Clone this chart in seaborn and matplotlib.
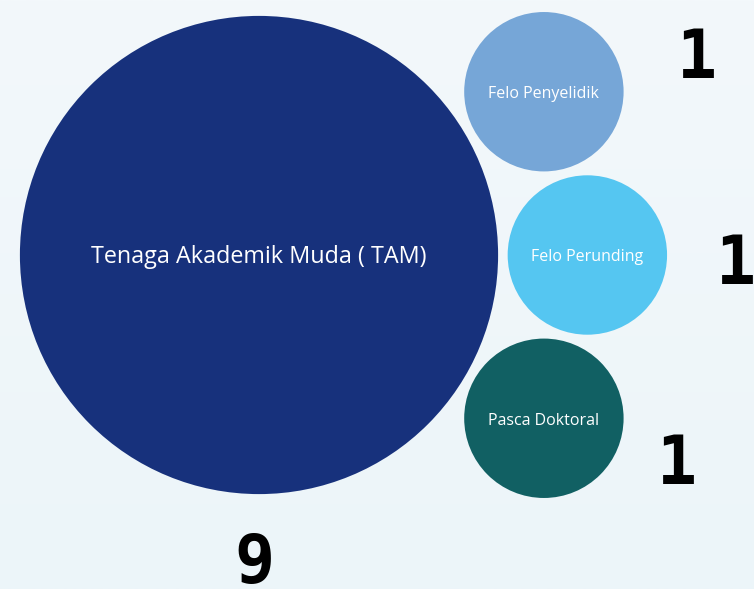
import numpy as np
import pandas as pd
import matplotlib.pyplot as plt
import seaborn as sns

# data
categories = ['Tenaga Akademik Muda ( TAM)', 'Felo Penyelidik', 'Felo Perunding', 'Pasca Doktoral']
counts = [9, 1, 1, 1]
colors = ['#17317c', '#76a6d7', '#55c6f1', '#116063']

W, H, DPI = 754, 589, 100
UNIT_PX = 79.7          # pixels per unit of radius (radius = sqrt(count))
PAD = 0.12              # gap between bubbles


def pack_layout(values):
    # big bubble at origin, small ones stacked round its right side
    radii = np.sqrt(values)
    r0, r1 = radii[0], radii[1]
    d = r0 + r1 + PAD
    theta = 2 * np.arcsin((2 * r1 + PAD) / (2 * d))
    angles = [theta, 0.0, -theta]
    xs = [0.0] + [d * np.cos(a) for a in angles]
    ys = [0.0] + [d * np.sin(a) for a in angles]
    return np.array(xs), np.array(ys), radii


xs, ys, radii = pack_layout(np.array(counts, dtype=float))
df = pd.DataFrame({'cat': categories, 'count': counts, 'x': xs, 'y': ys})

sns.set_theme(style='white')
plt.rcParams['font.family'] = ['Open Sans', 'DejaVu Sans']

fig = plt.figure(figsize=(W / DPI, H / DPI), dpi=DPI)
ax = fig.add_axes([0, 0, 1, 1])

# axis limits so that one unit = UNIT_PX pixels, big bubble centre at (259, 255)
cx, cy = 259, 255
xlim = (-cx / UNIT_PX, (W - cx) / UNIT_PX)
ylim = (-(H - cy) / UNIT_PX, cy / UNIT_PX)

# soft vertical gradient background, lighter at the top
grad = np.linspace(0, 1, 256).reshape(-1, 1)
top = np.array([243, 248, 251]) / 255
bot = np.array([236, 245, 249]) / 255
img = top + (bot - top) * grad[..., None]
ax.imshow(img, extent=[xlim[0], xlim[1], ylim[0], ylim[1]], origin='upper',
          aspect='auto', zorder=0)
ax.set_xlim(*xlim)
ax.set_ylim(*ylim)

# marker area so that bubble radius in data units = sqrt(count)
pt_per_unit = UNIT_PX * 72 / DPI
size_map = {v: (2 * np.sqrt(v) * pt_per_unit) ** 2 for v in set(counts)}
sns.scatterplot(data=df, x='x', y='y', hue='cat', palette=colors, size='count',
                sizes=size_map, linewidth=0, legend=False, ax=ax, zorder=2)

for i, row in df.iterrows():
    fs = 16.8 if i == 0 else 11.5
    ax.text(row['x'], row['y'] - 0.03, row['cat'], color='white', fontsize=fs,
            ha='center', va='center', zorder=3)

# count labels, offsets (in units) from each bubble centre
num_offsets = [(-0.06, -3.88), (1.92, 0.41), (1.86, -0.12), (1.67, -0.59)]
for (x, y), (dx, dy), c in zip(zip(xs, ys), num_offsets, counts):
    ax.text(x + dx, y + dy, str(c), fontsize=48, fontweight='bold',
            family='DejaVu Sans Mono', color='black', ha='center', va='center', zorder=3)

ax.set_axis_off()
fig.savefig('out.png', dpi=DPI)
